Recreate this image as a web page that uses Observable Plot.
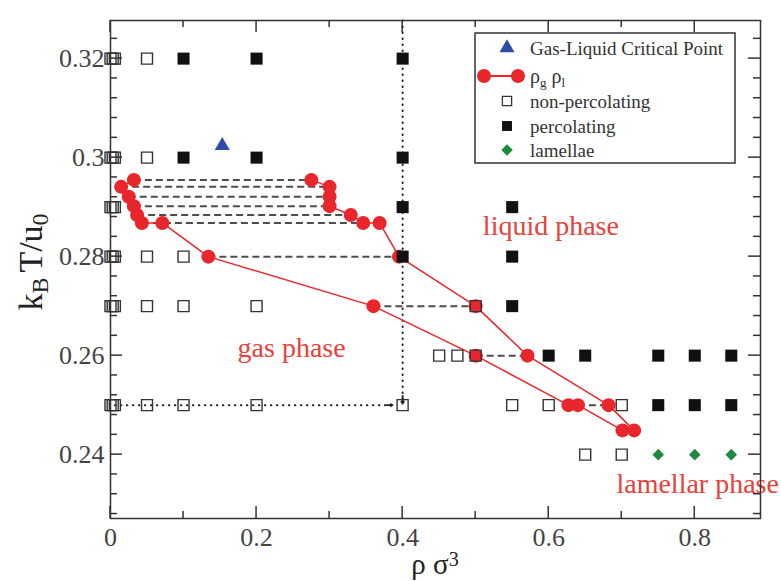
<!DOCTYPE html>
<html><head><meta charset="utf-8">
<script src="https://cdn.jsdelivr.net/npm/d3@7"></script>
<script src="https://cdn.jsdelivr.net/npm/@observablehq/plot@0.6"></script>
<style>
body{margin:0;background:#fff;}
#chart{width:781px;height:581px;}
</style></head><body><div id="chart"></div>
<script>
// ---- data ----
const nonPercRho = [0,0.003,0.006,0.05, 0,0.003,0.006,0.05, 0,0.003,0.006, 0,0.003,0.006,0.05,0.1,
  0,0.003,0.006,0.05,0.1,0.2,0.5, 0.45,0.475,0.5, 0,0.003,0.006,0.05,0.1,0.2,0.4,0.55,0.6,0.7, 0.65,0.7];
const nonPercT = [0.32,0.32,0.32,0.32, 0.30,0.30,0.30,0.30, 0.29,0.29,0.29, 0.28,0.28,0.28,0.28,0.28,
  0.27,0.27,0.27,0.27,0.27,0.27,0.27, 0.26,0.26,0.26, 0.25,0.25,0.25,0.25,0.25,0.25,0.25,0.25,0.25,0.25, 0.24,0.24];
const percRho = [0.1,0.2,0.4, 0.1,0.2,0.4, 0.4,0.55, 0.4,0.55, 0.55, 0.6,0.65,0.75,0.8,0.85, 0.75,0.8,0.85];
const percT = [0.32,0.32,0.32, 0.30,0.30,0.30, 0.29,0.29, 0.28,0.28, 0.27, 0.26,0.26,0.26,0.26,0.26, 0.25,0.25,0.25];
const lamRho = [0.75,0.8,0.85];
const lamT = [0.24,0.24,0.24];
const critRho = [0.153];
const critT = [0.3024];
const coexRho = [0.032,0.0146,0.025,0.032,0.0365,0.043,0.071,0.134,0.36,0.50,0.627,0.64,0.701,0.717,0.682,0.571,0.50,0.395,0.3685,0.346,0.329,0.30,0.30,0.30,0.275];
const coexT = [0.2955,0.2941,0.2921,0.2902,0.2884,0.2868,0.2868,0.28,0.27,0.26,0.25,0.25,0.2449,0.2449,0.25,0.26,0.27,0.28,0.2868,0.2868,0.2884,0.2902,0.2921,0.2941,0.2955];
const tieT = [0.2955,0.2941,0.2921,0.2902,0.2884,0.2868,0.28,0.27,0.26,0.25];
const tieGas = [0.032,0.0146,0.025,0.032,0.0365,0.043,0.134,0.36,0.50,0.64];
const tieLiq = [0.275,0.30,0.30,0.30,0.329,0.346,0.395,0.50,0.571,0.682];
const pathX1 = [0.4, 0.006];
const pathY1 = [0.3277, 0.25];
const pathX2 = [0.4, 0.386];
const pathY2 = [0.2503, 0.25];
const phaseText = ["liquid phase","gas phase","lamellar phase"];
const phaseRho = [0.603, 0.248, 0.804];
const phaseT = [0.2861, 0.2616, 0.2341];
const xMajor = [0,0.2,0.4,0.6,0.8];
const xMinor = [0.1,0.3,0.5,0.7];
const yMajor = [0.24,0.26,0.28,0.30,0.32];
const yMinor = [0.228,0.232,0.236,0.244,0.248,0.252,0.256,0.264,0.268,0.272,0.276,0.284,0.288,0.292,0.296,0.304,0.308,0.312,0.316,0.324];

const zip = (xs, ys) => xs.map((x, i) => ({x, y: ys[i]}));
const nonPerc = zip(nonPercRho, nonPercT);
const perc = zip(percRho, percT);
const lam = zip(lamRho, lamT);
const crit = zip(critRho, critT);
const coex = zip(coexRho, coexT);
const ties = tieT.map((t, i) => ({t, g: tieGas[i], l: tieLiq[i]}));
const paths = pathX1.map((x1, i) => ({x1, y1: pathY1[i], x2: pathX2[i], y2: pathY2[i]}));
const phases = phaseText.map((text, i) => ({text, x: phaseRho[i], y: phaseT[i]}));

const RED = "#e8262b";
const SERIF = "'Liberation Serif', 'DejaVu Serif', serif";
const fmt = d => String(+d.toFixed(2));
const AX = "#333";

const plot = Plot.plot({
  width: 781, height: 581,
  marginLeft: 110, marginRight: 21, marginTop: 20, marginBottom: 63,
  x: {domain: [0, 0.89]},
  y: {domain: [0.2271, 0.3277]},
  style: {fontFamily: SERIF, background: "#fff", overflow: "visible"},
  marks: [
    Plot.axisX(xMajor, {anchor: "bottom", tickSize: 0, tickPadding: 9, tickFormat: fmt, label: null, fontSize: 26, color: "#444"}),
    Plot.axisY(yMajor, {anchor: "left", tickSize: 0, tickPadding: 6, tickFormat: fmt, label: null, fontSize: 26, color: "#444"}),
    // dotted path with arrows
    Plot.link(paths, {x1: "x1", y1: "y1", x2: "x2", y2: "y2", stroke: "#222", strokeWidth: 2, strokeDasharray: "0.5,5.5", strokeLinecap: "round"}),
    Plot.arrow(paths, {x1: d => d.x2 - (d.x2 - d.x1) * 0.02, y1: d => d.y2 - (d.y2 - d.y1) * 0.02, x2: "x2", y2: "y2", stroke: "#222", strokeWidth: 1.8, headLength: 9}),
    // tie lines
    Plot.link(ties, {x1: "g", x2: "l", y1: "t", y2: "t", stroke: "#4d4d4d", strokeWidth: 2, strokeDasharray: "7,4"}),
    // coexistence curve
    Plot.line(coex, {x: "x", y: "y", stroke: RED, strokeWidth: 1.5}),
    Plot.dot(coex, {x: "x", y: "y", r: 7, fill: RED}),
    // state points
    Plot.dot(nonPerc, {x: "x", y: "y", symbol: "square", r: 6.2, fill: "none", stroke: "#333", strokeWidth: 1.4}),
    Plot.dot(perc, {x: "x", y: "y", symbol: "square", r: 6.8, fill: "#111", stroke: "none"}),
    Plot.dot(crit, {x: "x", y: "y", symbol: "triangle", r: 5.6, fill: "#2c4ea6", stroke: "none"}),
    Plot.dot(lam, {x: "x", y: "y", symbol: "diamond2", r: 5.2, fill: "#1e8a3c", stroke: "none"}),
    Plot.text(phases, {x: "x", y: "y", text: "text", fill: "#e8403a", fontSize: 28, fontFamily: SERIF}),
    Plot.frame({stroke: AX, strokeWidth: 1.5})
  ]
});
document.getElementById("chart").appendChild(plot);

const svg = d3.select(plot);
const sx = plot.scale("x"), sy = plot.scale("y");
const [L, R] = sx.range, [B, T] = sy.range;

// inward ticks on all four sides, positioned through the plot's scales
const ticks = svg.append("g").attr("stroke", AX).attr("stroke-width", 1.5);
const addX = (vals, len) => vals.forEach(v => {
  const px = sx.apply(v);
  ticks.append("line").attr("x1", px).attr("x2", px).attr("y1", B).attr("y2", B - len);
  ticks.append("line").attr("x1", px).attr("x2", px).attr("y1", T).attr("y2", T + len);
});
const addY = (vals, len) => vals.forEach(v => {
  const py = sy.apply(v);
  ticks.append("line").attr("y1", py).attr("y2", py).attr("x1", L).attr("x2", L + len);
  ticks.append("line").attr("y1", py).attr("y2", py).attr("x1", R).attr("x2", R - len);
});
addX(xMajor, 12); addX(xMinor, 7); addY(yMajor, 12); addY(yMinor, 7);

// axis titles
const yl = svg.append("text").attr("transform", "translate(42,262) rotate(-90)")
  .attr("text-anchor", "middle").attr("font-family", SERIF).attr("font-size", 34).attr("fill", "#222");
yl.append("tspan").text("k");
yl.append("tspan").attr("baseline-shift", "-25%").attr("font-size", 24).text("B");
yl.append("tspan").attr("dx", 5).text("T/u");
yl.append("tspan").attr("baseline-shift", "-25%").attr("font-size", 24).text("0");

const xl = svg.append("text").attr("x", 435).attr("y", 574)
  .attr("text-anchor", "middle").attr("font-family", SERIF).attr("font-size", 29).attr("fill", "#222");
xl.append("tspan").text("ρ σ");
xl.append("tspan").attr("baseline-shift", "40%").attr("font-size", 20).text("3");

// legend
const lg = svg.append("g").attr("font-family", SERIF).attr("font-size", 19).attr("fill", "#333").attr("text-anchor", "start");
lg.append("rect").attr("x", 475).attr("y", 33).attr("width", 260).attr("height", 130)
  .attr("fill", "#fff").attr("stroke", "#333").attr("stroke-width", 1.5);
const rows = [48, 76, 101, 126, 150];
const sym = (type, size) => d3.symbol(type, size)();
lg.append("path").attr("d", sym(d3.symbolTriangle, Math.PI * 5.6 * 5.6)).attr("transform", `translate(507,${rows[0]})`).attr("fill", "#2c4ea6");
lg.append("line").attr("x1", 484).attr("x2", 518).attr("y1", rows[1]).attr("y2", rows[1]).attr("stroke", RED).attr("stroke-width", 2);
lg.append("circle").attr("cx", 484).attr("cy", rows[1]).attr("r", 7).attr("fill", RED);
lg.append("circle").attr("cx", 518).attr("cy", rows[1]).attr("r", 7).attr("fill", RED);
lg.append("path").attr("d", sym(d3.symbolSquare, Math.PI * 5.2 * 5.2)).attr("transform", `translate(507,${rows[2]})`).attr("fill", "none").attr("stroke", "#333").attr("stroke-width", 1.3);
lg.append("path").attr("d", sym(d3.symbolSquare, Math.PI * 5.6 * 5.6)).attr("transform", `translate(507,${rows[3]})`).attr("fill", "#111");
lg.append("path").attr("d", sym(d3.symbolDiamond2, Math.PI * 5.2 * 5.2)).attr("transform", `translate(507,${rows[4]})`).attr("fill", "#1e8a3c");
const labels = ["Gas-Liquid Critical Point", null, "non-percolating", "percolating", "lamellae"];
labels.forEach((t, i) => {
  if (t) lg.append("text").attr("x", 530).attr("y", rows[i]).attr("dy", "0.35em").text(t);
});
const rl = lg.append("text").attr("x", 530).attr("y", rows[1]).attr("dy", "0.35em").attr("font-size", 20);
rl.append("tspan").text("ρ");
rl.append("tspan").attr("baseline-shift", "-30%").attr("font-size", 13).text("g");
rl.append("tspan").attr("dx", 5).text("ρ");
rl.append("tspan").attr("baseline-shift", "-30%").attr("font-size", 13).text("l");
</script></body></html>
